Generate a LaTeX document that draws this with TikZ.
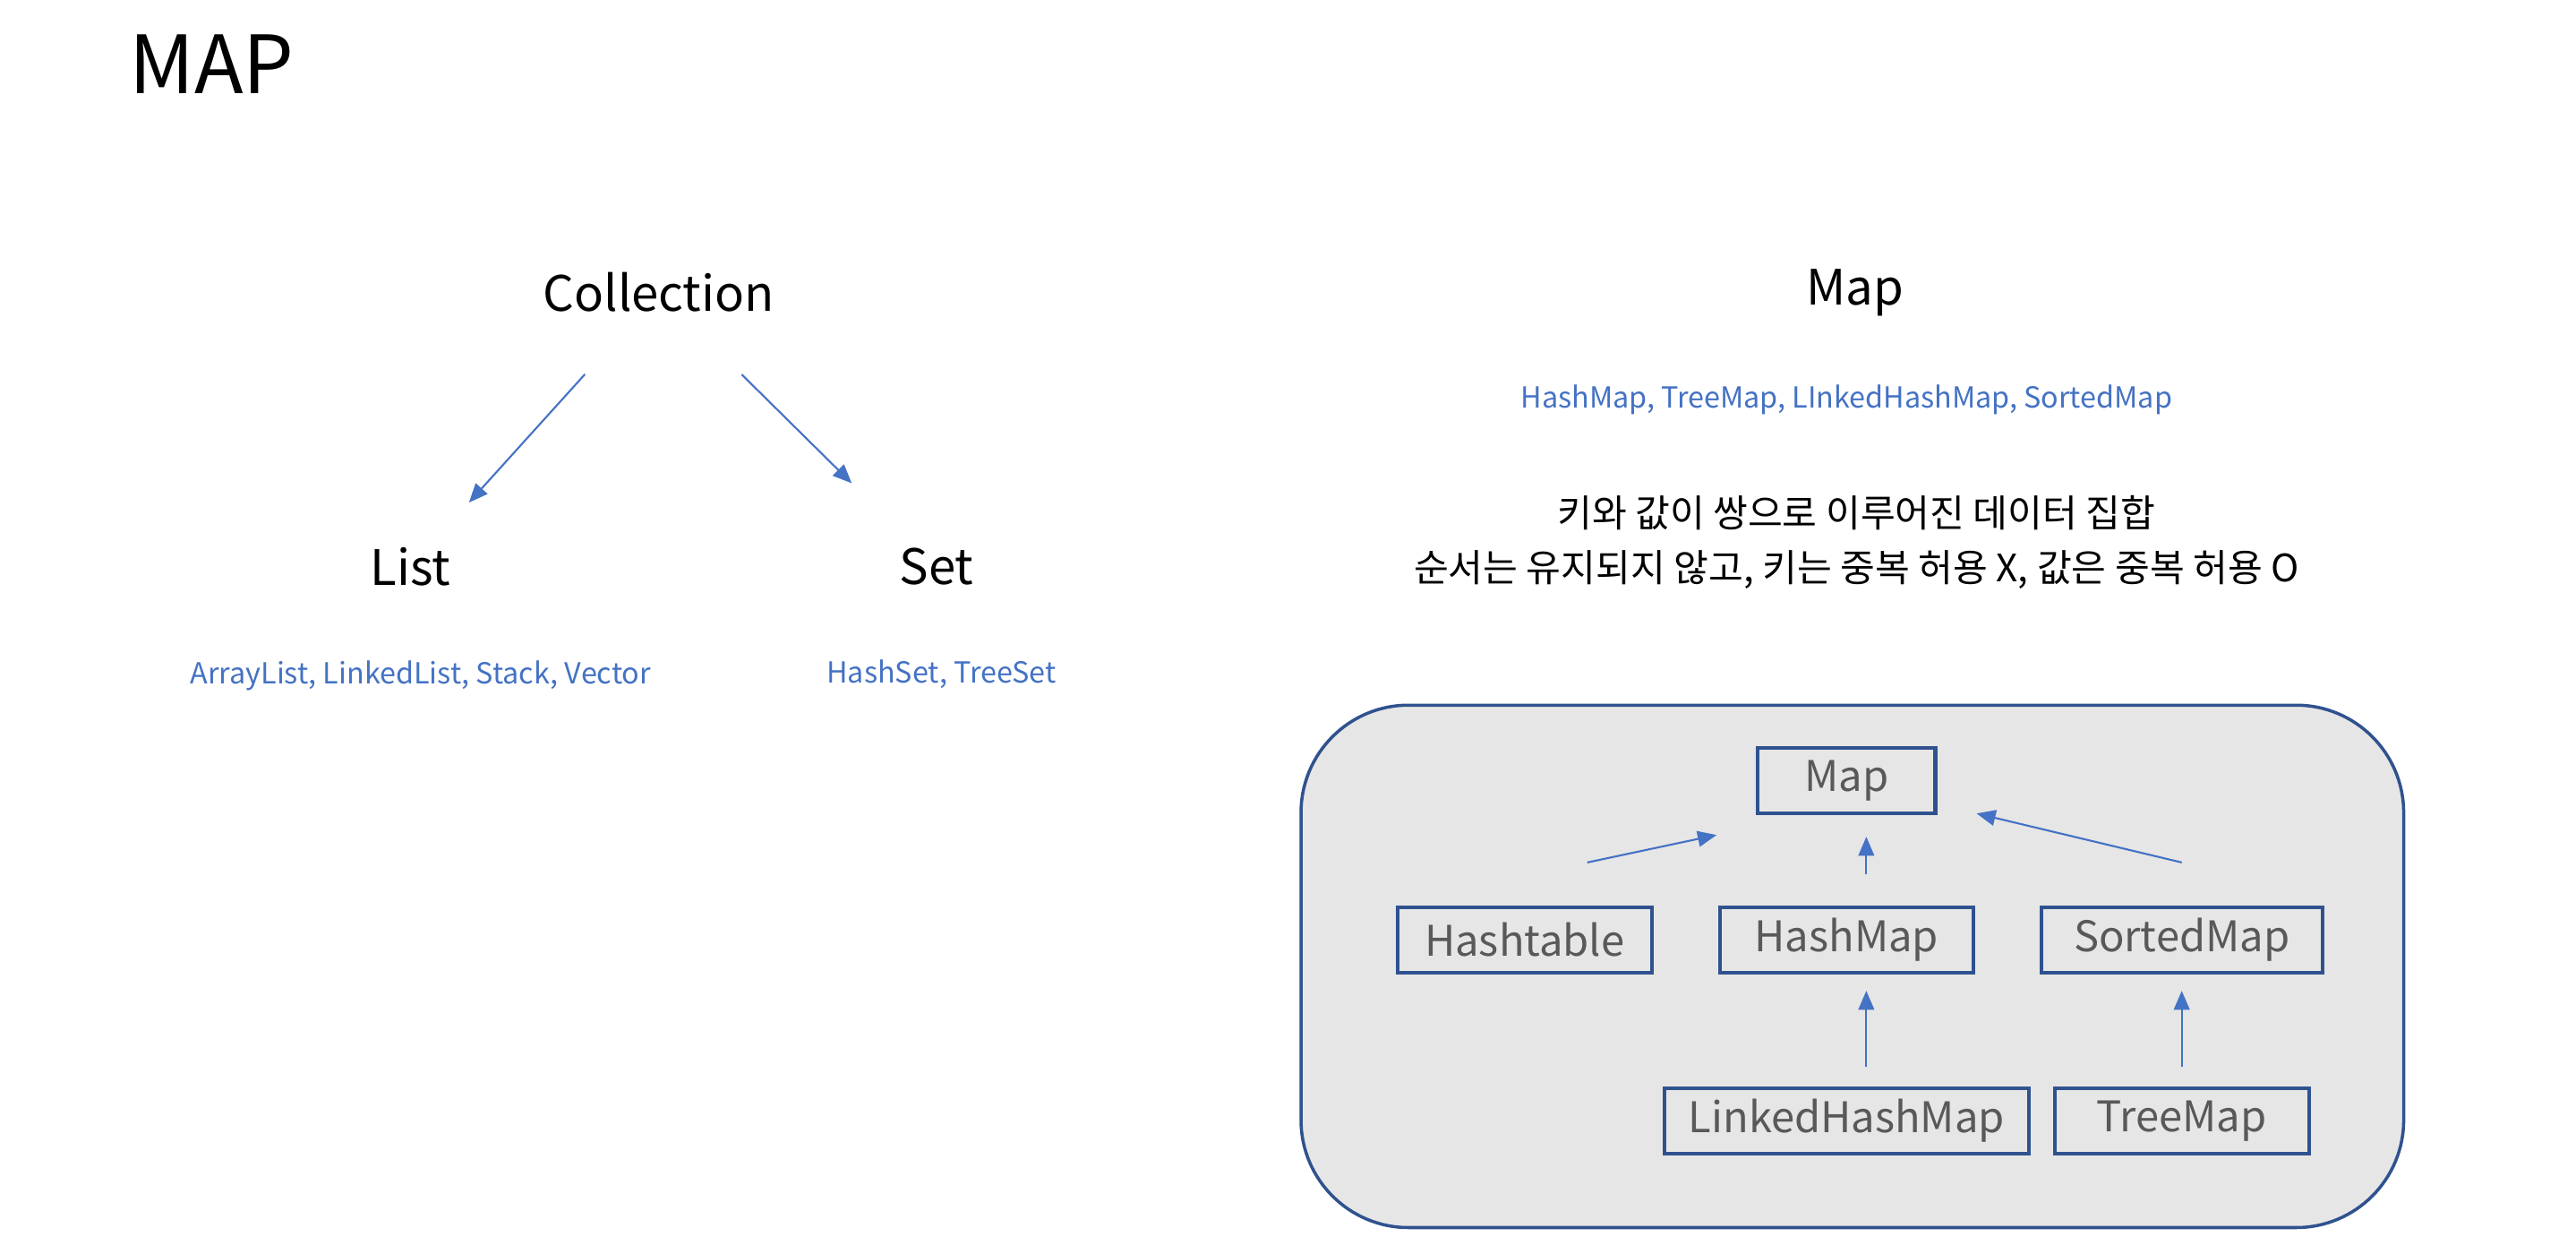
\documentclass[tikz,border=0pt]{standalone}
\usepackage{fontspec}
\setmainfont{Noto Sans CJK KR}
\usetikzlibrary{arrows.meta}
\definecolor{linkblue}{HTML}{4472C4}
\definecolor{boxblue}{HTML}{2F528F}
\definecolor{panelgray}{HTML}{E7E6E6}
\definecolor{boxgray}{HTML}{595959}
\newcommand*{\MapBoxes}[1]{% #1 = list of x/y/width/name/text
  \foreach \x/\y/\w/\name/\txt in {#1} {
    \node [mapbox, minimum width=\w cm] (\name) at (\x,\y) {\txt};
    }%
}

\begin{document}
\begin{tikzpicture}[x=0.018348cm, y=-0.018348cm,
    title/.style={font=\fontsize{25.5}{30}\selectfont, inner sep=0pt},
    heading/.style={font=\fontsize{15.5}{19}\selectfont, inner sep=0pt},
    members/.style={text=linkblue, font=\fontsize{9.2}{11}\selectfont, inner sep=0pt},
    korean/.style={font=\fontsize{12}{17.2}\selectfont, align=center, inner sep=0pt},
    panel/.style={fill=panelgray, draw=boxblue, line width=1pt, rounded corners=1.2cm,
      minimum width=12.31cm, minimum height=5.83cm},
    mapbox/.style={draw=boxblue, line width=1.2pt, text=boxgray,
      font=\fontsize{13.4}{16}\selectfont, minimum height=0.73cm, inner sep=0pt},
    link/.style={draw=linkblue, line width=0.6pt, -{Triangle[length=6pt,width=5pt]}}]
    \useasboundingbox (0,0) rectangle (1568,763);

    % left: Collection
    \node [title] (maptitle) at (129,39) {MAP};
    \node [heading] (coll) at (401,178) {Collection};
    \node [heading] (list) at (250,345) {List};
    \node [heading] (set) at (570,345) {Set};
    \node [members] (listimpl) at (256,411) {ArrayList, LinkedList, Stack, Vector};
    \node [members] (setimpl) at (573,410) {HashSet, TreeSet};
    \draw [link, shorten <=1.23cm, shorten >=0.97cm] (coll.center) -- (list.center);
    \draw [link, shorten <=1.30cm, shorten >=1.33cm] (coll.center) -- (set.center);

    % right: Map
    \node [heading] (map) at (1129,178) {Map};
    \node [members] (mapimpl) at (1124,243) {HashMap, TreeMap, LInkedHashMap, SortedMap};
    \node [korean] (desc) at (1130,330)
      {키와 값이 쌍으로 이루어진 데이터 집합\\순서는 유지되지 않고, 키는 중복 허용 X, 값은 중복 허용 O};

    \node [panel] (panel) at (1127.5,588) {};
    \MapBoxes{
      1124/475/1.98/mbox/Map,
      928/572/2.84/htable/Hashtable,
      1124/572/2.83/hmap/HashMap,
      1328/572/3.14/smap/SortedMap,
      1124/682/4.07/lhmap/LinkedHashMap,
      1328/682/2.84/tmap/TreeMap
    }
    \draw [link] ([xshift=0.70cm,yshift=0.48cm]htable.north) -- ([xshift=-0.44cm,yshift=-0.22cm]mbox.south west);
    \draw [link] ([xshift=0.22cm,yshift=0.35cm]hmap.north) -- ([xshift=0.22cm,yshift=-0.24cm]mbox.south);
    \draw [link] ([yshift=0.48cm]smap.north) -- ([xshift=0.44cm,yshift=0.02cm]mbox.south east);
    \draw [link] ([xshift=0.22cm,yshift=0.22cm]lhmap.north) -- ([xshift=0.22cm,yshift=-0.18cm]hmap.south);
    \draw [link] ([yshift=0.22cm]tmap.north) -- ([yshift=-0.18cm]smap.south);
\end{tikzpicture}
\end{document}
